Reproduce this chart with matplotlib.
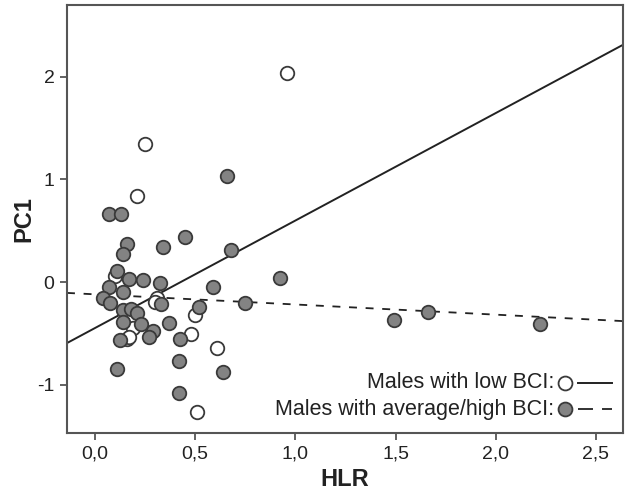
import numpy as np
import matplotlib
matplotlib.use("Agg")
import matplotlib.pyplot as plt

plt.rcParams['font.family'] = ['Liberation Sans', 'DejaVu Sans']
plt.rcParams['axes.unicode_minus'] = False

# males with low BCI (open circles)
low_hlr = [0.96, 0.25, 0.21, 0.10, 0.31, 0.30, 0.50, 0.48, 0.61, 0.51, 0.16, 0.19, 0.17]
low_pc1 = [2.04, 1.35, 0.84, 0.06, -0.15, -0.19, -0.32, -0.51, -0.64, -1.27, -0.55, -0.45, -0.53]

# males with average/high BCI (grey circles)
avg_hlr = [0.66, 0.07, 0.13, 0.16, 0.14, 0.34, 0.45, 0.68, 0.11, 0.17, 0.24, 0.325,
           0.07, 0.59, 0.14, 0.04, 0.075, 0.33, 0.52, 0.75, 0.14, 0.18, 0.21, 0.14,
           0.23, 0.37, 0.29, 0.27, 0.125, 0.425, 0.42, 0.11, 0.64, 0.42, 0.925,
           1.49, 1.66, 2.22]
avg_pc1 = [1.03, 0.66, 0.66, 0.37, 0.27, 0.34, 0.44, 0.31, 0.11, 0.03, 0.02, -0.01,
           -0.05, -0.05, -0.10, -0.15, -0.20, -0.21, -0.24, -0.20, -0.27, -0.26, -0.30, -0.39,
           -0.41, -0.40, -0.48, -0.53, -0.56, -0.55, -0.77, -0.85, -0.88, -1.08, 0.04,
           -0.37, -0.29, -0.41]

# fit lines: intercept, slope
low_fit = [-0.447, 1.047]
avg_fit = [-0.119, -0.099]

xticks = [0.0, 0.5, 1.0, 1.5, 2.0, 2.5]
xticklabels = ["0,0", "0,5", "1,0", "1,5", "2,0", "2,5"]
yticks = [-1, 0, 1, 2]

labels = ["Males with low BCI:", "Males with average/high BCI:"]

fig = plt.figure(figsize=(6.25, 4.96), dpi=100)
ax = fig.add_axes([0.1072, 0.127, 0.8896, 0.863])

xlim = (-0.14, 2.635)
ylim = (-1.47, 2.70)
xs = np.array(xlim)

ink = "#222222"
grey = "#838383"
edge = "#3a3a3a"

ax.plot(xs, low_fit[0] + low_fit[1] * xs, color=ink, lw=1.4, zorder=2)
ax.plot(xs, avg_fit[0] + avg_fit[1] * xs, color=ink, lw=1.3, dashes=(4.4, 4.8), zorder=2)

ax.scatter(low_hlr, low_pc1, s=95, facecolor="white", edgecolor=edge, linewidth=1.3, zorder=3)
ax.scatter(avg_hlr, avg_pc1, s=95, facecolor=grey, edgecolor=edge, linewidth=1.3, zorder=4)

ax.set_xlim(*xlim)
ax.set_ylim(*ylim)
ax.set_xticks(xticks)
ax.set_xticklabels(xticklabels)
ax.set_yticks(yticks)

for sp in ax.spines.values():
    sp.set_color("#555555")
    sp.set_linewidth(1.5)
ax.tick_params(colors="#555555", width=1.3, length=5, pad=4, labelsize=14, labelcolor=ink)

ax.set_xlabel("HLR", fontsize=17, fontweight="bold", color=ink, labelpad=4)
ax.set_ylabel("PC1", fontsize=17, fontweight="bold", color=ink, labelpad=1)

# legend: text, then marker, then line
tr = ax.transAxes
rows_y = [0.117, 0.056]
styles = [("white", dict(lw=1.4)), (grey, dict(lw=1.3, dashes=(8.3, 5)))]
for y, lab, (fc, lkw) in zip(rows_y, labels, styles):
    ax.text(0.877, y, lab, transform=tr, ha="right", va="center", fontsize=15.5, color=ink)
    ax.plot([0.896], [y], transform=tr, marker="o", ls="none", markersize=10,
            markerfacecolor=fc, markeredgecolor=edge, markeredgewidth=1.3, clip_on=False)
    ax.plot([0.919, 0.980], [y, y], transform=tr, color=ink, clip_on=False, **lkw)

fig.savefig("out.png", dpi=100)
